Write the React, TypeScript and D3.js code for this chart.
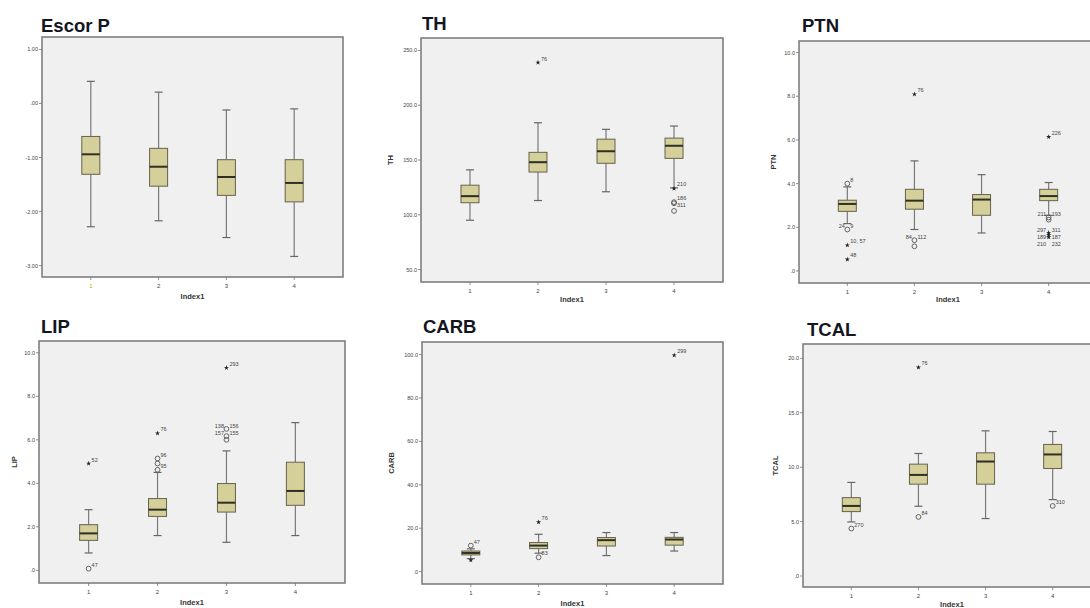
import React from "react";
import * as d3 from "d3";

// ---------- DATA ----------
const categories = ["1", "2", "3", "4"];

// each box: [lowWhisker, Q1, median, Q3, highWhisker]
const escorStats = [
  [-2.28, -1.31, -0.94, -0.61, 0.41],
  [-2.17, -1.53, -1.17, -0.83, 0.21],
  [-2.48, -1.7, -1.36, -1.04, -0.12],
  [-2.83, -1.82, -1.47, -1.04, -0.1],
];
const escorTicks = [1, 0, -1, -2, -3];
const escorTickLabels = ["1.00", ".00", "-1.00", "-2.00", "-3.00"];
const escorDomain = [-3.21, 1.23];
// outliers: [categoryIndex, value, marker, labels]
const escorOutliers: [number, number, string, string[]][] = [];

const thStats = [
  [95, 111, 117, 127, 141],
  [113, 139, 148, 157, 184],
  [121, 147, 158, 169, 178],
  [124.5, 151.5, 163, 170, 181],
];
const thTicks = [50, 100, 150, 200, 250];
const thTickLabels = ["50.0", "100.0", "150.0", "200.0", "250.0"];
const thDomain = [38.6, 261.4];
const thOutliers: [number, number, string, string[]][] = [
  [1, 239, "*", ["76"]],
  [3, 124, "*", ["210"]],
  [3, 111.5, "o", ["186"]],
  [3, 110.5, "o", ["311"]],
  [3, 103.5, "o", []],
];

const ptnStats = [
  [2.17, 2.73, 3.07, 3.24, 3.85],
  [1.9, 2.83, 3.22, 3.74, 5.04],
  [1.74, 2.55, 3.27, 3.5, 4.41],
  [2.55, 3.22, 3.43, 3.74, 4.05],
];
const ptnTicks = [0, 2, 4, 6, 8, 10];
const ptnTickLabels = [".0", "2.0", "4.0", "6.0", "8.0", "10.0"];
const ptnDomain = [-0.55, 10.53];
const ptnOutliers: [number, number, string, string[]][] = [
  [0, 4.0, "o", ["8"]],
  [0, 1.9, "o", ["24", "9"]],
  [0, 1.18, "*", ["10, 57"]],
  [0, 0.53, "*", ["48"]],
  [1, 8.09, "*", ["76"]],
  [1, 1.41, "o", ["84", "112"]],
  [1, 1.13, "o", []],
  [3, 6.14, "*", ["226"]],
  [3, 2.45, "o", ["211", "193"]],
  [3, 2.35, "o", []],
  [3, 1.75, "*", ["297", "311"]],
  [3, 1.65, "*", ["189", "187"]],
  [3, 1.55, "*", ["210", "232"]],
];

const lipStats = [
  [0.8, 1.38, 1.7, 2.1, 2.79],
  [1.6, 2.48, 2.79, 3.3, 4.5],
  [1.29, 2.68, 3.11, 3.99, 5.49],
  [1.6, 2.99, 3.65, 4.97, 6.79],
];
const lipTicks = [0, 2, 4, 6, 8, 10];
const lipTickLabels = [".0", "2.0", "4.0", "6.0", "8.0", "10.0"];
const lipDomain = [-0.58, 10.54];
const lipOutliers: [number, number, string, string[]][] = [
  [0, 4.91, "*", ["52"]],
  [0, 0.08, "o", ["47"]],
  [1, 6.3, "*", ["76"]],
  [1, 5.14, "o", ["96"]],
  [1, 4.91, "o", []],
  [1, 4.62, "o", ["95"]],
  [2, 9.31, "*", ["293"]],
  [2, 6.5, "o", ["138", "156"]],
  [2, 6.17, "o", ["157", "155"]],
  [2, 6.0, "o", []],
];

const carbStats = [
  [6.0, 7.7, 8.6, 9.5, 10.5],
  [8.5, 10.6, 12.0, 13.4, 17.2],
  [7.4, 11.8, 14.5, 15.7, 18.0],
  [9.5, 12.2, 14.8, 15.8, 18.0],
];
const carbTicks = [0, 20, 40, 60, 80, 100];
const carbTickLabels = [".0", "20.0", "40.0", "60.0", "80.0", "100.0"];
const carbDomain = [-5.7, 105.8];
const carbOutliers: [number, number, string, string[]][] = [
  [0, 12.0, "o", ["47"]],
  [0, 5.3, "*", []],
  [1, 22.8, "*", ["76"]],
  [1, 6.6, "o", ["83"]],
  [3, 99.7, "*", ["299"]],
];

const tcalStats = [
  [4.97, 5.92, 6.44, 7.2, 8.6],
  [6.41, 8.44, 9.29, 10.28, 11.26],
  [5.28, 8.44, 10.52, 11.32, 13.34],
  [7.02, 9.88, 11.17, 12.09, 13.28],
];
const tcalTicks = [0, 5, 10, 15, 20];
const tcalTickLabels = [".0", "5.0", "10.0", "15.0", "20.0"];
const tcalDomain = [-1.01, 21.32];
const tcalOutliers: [number, number, string, string[]][] = [
  [0, 4.36, "o", ["270"]],
  [1, 19.17, "*", ["76"]],
  [1, 5.43, "o", ["84"]],
  [3, 6.44, "o", ["310"]],
];

const xAxisTitle = "Index1";

const panels = [
  { title: "Escor P", yLabel: "", stats: escorStats, ticks: escorTicks, tickLabels: escorTickLabels, domain: escorDomain, outliers: escorOutliers },
  { title: "TH", yLabel: "TH", stats: thStats, ticks: thTicks, tickLabels: thTickLabels, domain: thDomain, outliers: thOutliers },
  { title: "PTN", yLabel: "PTN", stats: ptnStats, ticks: ptnTicks, tickLabels: ptnTickLabels, domain: ptnDomain, outliers: ptnOutliers },
  { title: "LIP", yLabel: "LIP", stats: lipStats, ticks: lipTicks, tickLabels: lipTickLabels, domain: lipDomain, outliers: lipOutliers },
  { title: "CARB", yLabel: "CARB", stats: carbStats, ticks: carbTicks, tickLabels: carbTickLabels, domain: carbDomain, outliers: carbOutliers },
  { title: "TCAL", yLabel: "TCAL", stats: tcalStats, ticks: tcalTicks, tickLabels: tcalTickLabels, domain: tcalDomain, outliers: tcalOutliers },
];

// ---------- LAYOUT ----------
const layout = [
  { x: 42, y: 37, w: 301, h: 240, tx: 41, ty: 32, yl: 0, xl: 299, hl: true },
  { x: 421, y: 38, w: 302, h: 244, tx: 422, ty: 30, yl: 393, xl: 302, hl: false },
  { x: 799, y: 41, w: 298, h: 242, tx: 802, ty: 32, yl: 776, xl: 302, hl: false },
  { x: 39, y: 341, w: 306, h: 242, tx: 41, ty: 333, yl: 17, xl: 605, hl: false },
  { x: 422, y: 342, w: 301, h: 242, tx: 423, ty: 333, yl: 394, xl: 606, hl: false },
  { x: 803, y: 344, w: 298, h: 243, tx: 807, ty: 336, yl: 778, xl: 607, hl: false },
];

const FONT = "'Liberation Sans', Arial, sans-serif";
const boxFill = "#d5cf99";
const boxStroke = "#63634f";
const whiskerStroke = "#7a7a7a";
const LABEL_GAP = 7;

function Panel({ p, L }: { p: any; L: any }) {
  const x = d3.scalePoint<string>().domain(categories).range([L.x, L.x + L.w]).padding(0.72);
  const y = d3.scaleLinear().domain(p.domain).range([L.y + L.h, L.y]);
  const bw = 18;
  const cw = 8;
  const star = d3.symbol().type(d3.symbolStar).size(8)() as string;

  // label placement with simple vertical de-collision per category
  const placed: { cx: number; cy: number; ly: number; labs: string[]; mark: string }[] = [];
  const lastY: Record<number, number> = {};
  const sorted = p.outliers
    .map((o: any) => o)
    .sort((a: any, b: any) => (a[0] - b[0]) || (b[1] - a[1]));
  sorted.forEach((o: [number, number, string, string[]]) => {
    const cx = x(categories[o[0]]) as number;
    const cy = y(o[1]);
    let ly = cy - (o[3].length === 2 ? 1 : 2);
    if (o[3].length > 0) {
      const prev = lastY[o[0]];
      if (prev !== undefined && ly < prev + LABEL_GAP) ly = prev + LABEL_GAP;
      lastY[o[0]] = ly;
    }
    placed.push({ cx, cy, ly, labs: o[3], mark: o[2] });
  });

  return (
    <g>
      <text x={L.tx} y={L.ty} fontFamily={FONT} fontWeight="bold" fontSize={18.5} fill="#15151f">
        {p.title}
      </text>
      <rect x={L.x} y={L.y} width={L.w} height={L.h} fill="#f0f0f0" stroke="#7f7f7f" strokeWidth={1.6} />
      {p.ticks.map((t: number, i: number) => (
        <g key={"yt" + i}>
          <line x1={L.x - 3} x2={L.x} y1={y(t)} y2={y(t)} stroke="#777" strokeWidth={0.8} />
          <text x={L.x - 4} y={y(t) + 2} textAnchor="end" fontFamily={FONT} fontSize={5.5} fill="#444">
            {p.tickLabels[i]}
          </text>
        </g>
      ))}
      {categories.map((c, i) => (
        <g key={"xt" + i}>
          <line x1={x(c)} x2={x(c)} y1={L.y + L.h} y2={L.y + L.h + 3} stroke="#777" strokeWidth={0.8} />
          <text
            x={x(c)}
            y={L.y + L.h + 11}
            textAnchor="middle"
            fontFamily={FONT}
            fontSize={6}
            fill={L.hl && i === 0 ? "#d9a800" : "#444"}
          >
            {c}
          </text>
        </g>
      ))}
      <text x={L.x + L.w / 2} y={L.xl} textAnchor="middle" fontFamily={FONT} fontWeight="bold" fontSize={7.5} fill="#333">
        {xAxisTitle}
      </text>
      {p.yLabel && (
        <text
          transform={`translate(${L.yl},${L.y + L.h / 2}) rotate(-90)`}
          textAnchor="middle"
          fontFamily={FONT}
          fontWeight="bold"
          fontSize={7.5}
          fill="#333"
        >
          {p.yLabel}
        </text>
      )}
      {p.stats.map((s: number[], i: number) => {
        const cx = x(categories[i]) as number;
        return (
          <g key={"b" + i}>
            <line x1={cx} x2={cx} y1={y(s[4])} y2={y(s[3])} stroke={whiskerStroke} strokeWidth={1.2} />
            <line x1={cx} x2={cx} y1={y(s[1])} y2={y(s[0])} stroke={whiskerStroke} strokeWidth={1.2} />
            <line x1={cx - cw / 2} x2={cx + cw / 2} y1={y(s[4])} y2={y(s[4])} stroke="#666" strokeWidth={1.2} />
            <line x1={cx - cw / 2} x2={cx + cw / 2} y1={y(s[0])} y2={y(s[0])} stroke="#666" strokeWidth={1.2} />
            <rect
              x={cx - bw / 2}
              y={y(s[3])}
              width={bw}
              height={y(s[1]) - y(s[3])}
              fill={boxFill}
              stroke={boxStroke}
              strokeWidth={1}
            />
            <line x1={cx - bw / 2} x2={cx + bw / 2} y1={y(s[2])} y2={y(s[2])} stroke="#2f2f25" strokeWidth={2} />
          </g>
        );
      })}
      {placed.map((o, i) => (
        <g key={"o" + i}>
          {o.mark === "o" ? (
            <circle cx={o.cx} cy={o.cy} r={2.4} fill="none" stroke="#555" strokeWidth={0.9} />
          ) : (
            <path d={star} transform={`translate(${o.cx},${o.cy})`} fill="#222" />
          )}
          {o.labs.length === 1 && (
            <text x={o.cx + 3} y={o.ly} fontFamily={FONT} fontSize={5.5} fill="#444">
              {o.labs[0]}
            </text>
          )}
          {o.labs.length === 2 && (
            <>
              <text x={o.cx - 2.5} y={o.ly} textAnchor="end" fontFamily={FONT} fontSize={5.5} fill="#444">
                {o.labs[0]}
              </text>
              <text x={o.cx + 3} y={o.ly} fontFamily={FONT} fontSize={5.5} fill="#444">
                {o.labs[1]}
              </text>
            </>
          )}
        </g>
      ))}
    </g>
  );
}

export default function App() {
  return (
    <svg width={1090} height={608} style={{ position: "absolute", left: 0, top: 0, background: "#ffffff" }}>
      <rect x={0} y={0} width={1090} height={608} fill="#ffffff" />
      {panels.map((p, i) => (
        <Panel key={i} p={p} L={layout[i]} />
      ))}
    </svg>
  );
}
